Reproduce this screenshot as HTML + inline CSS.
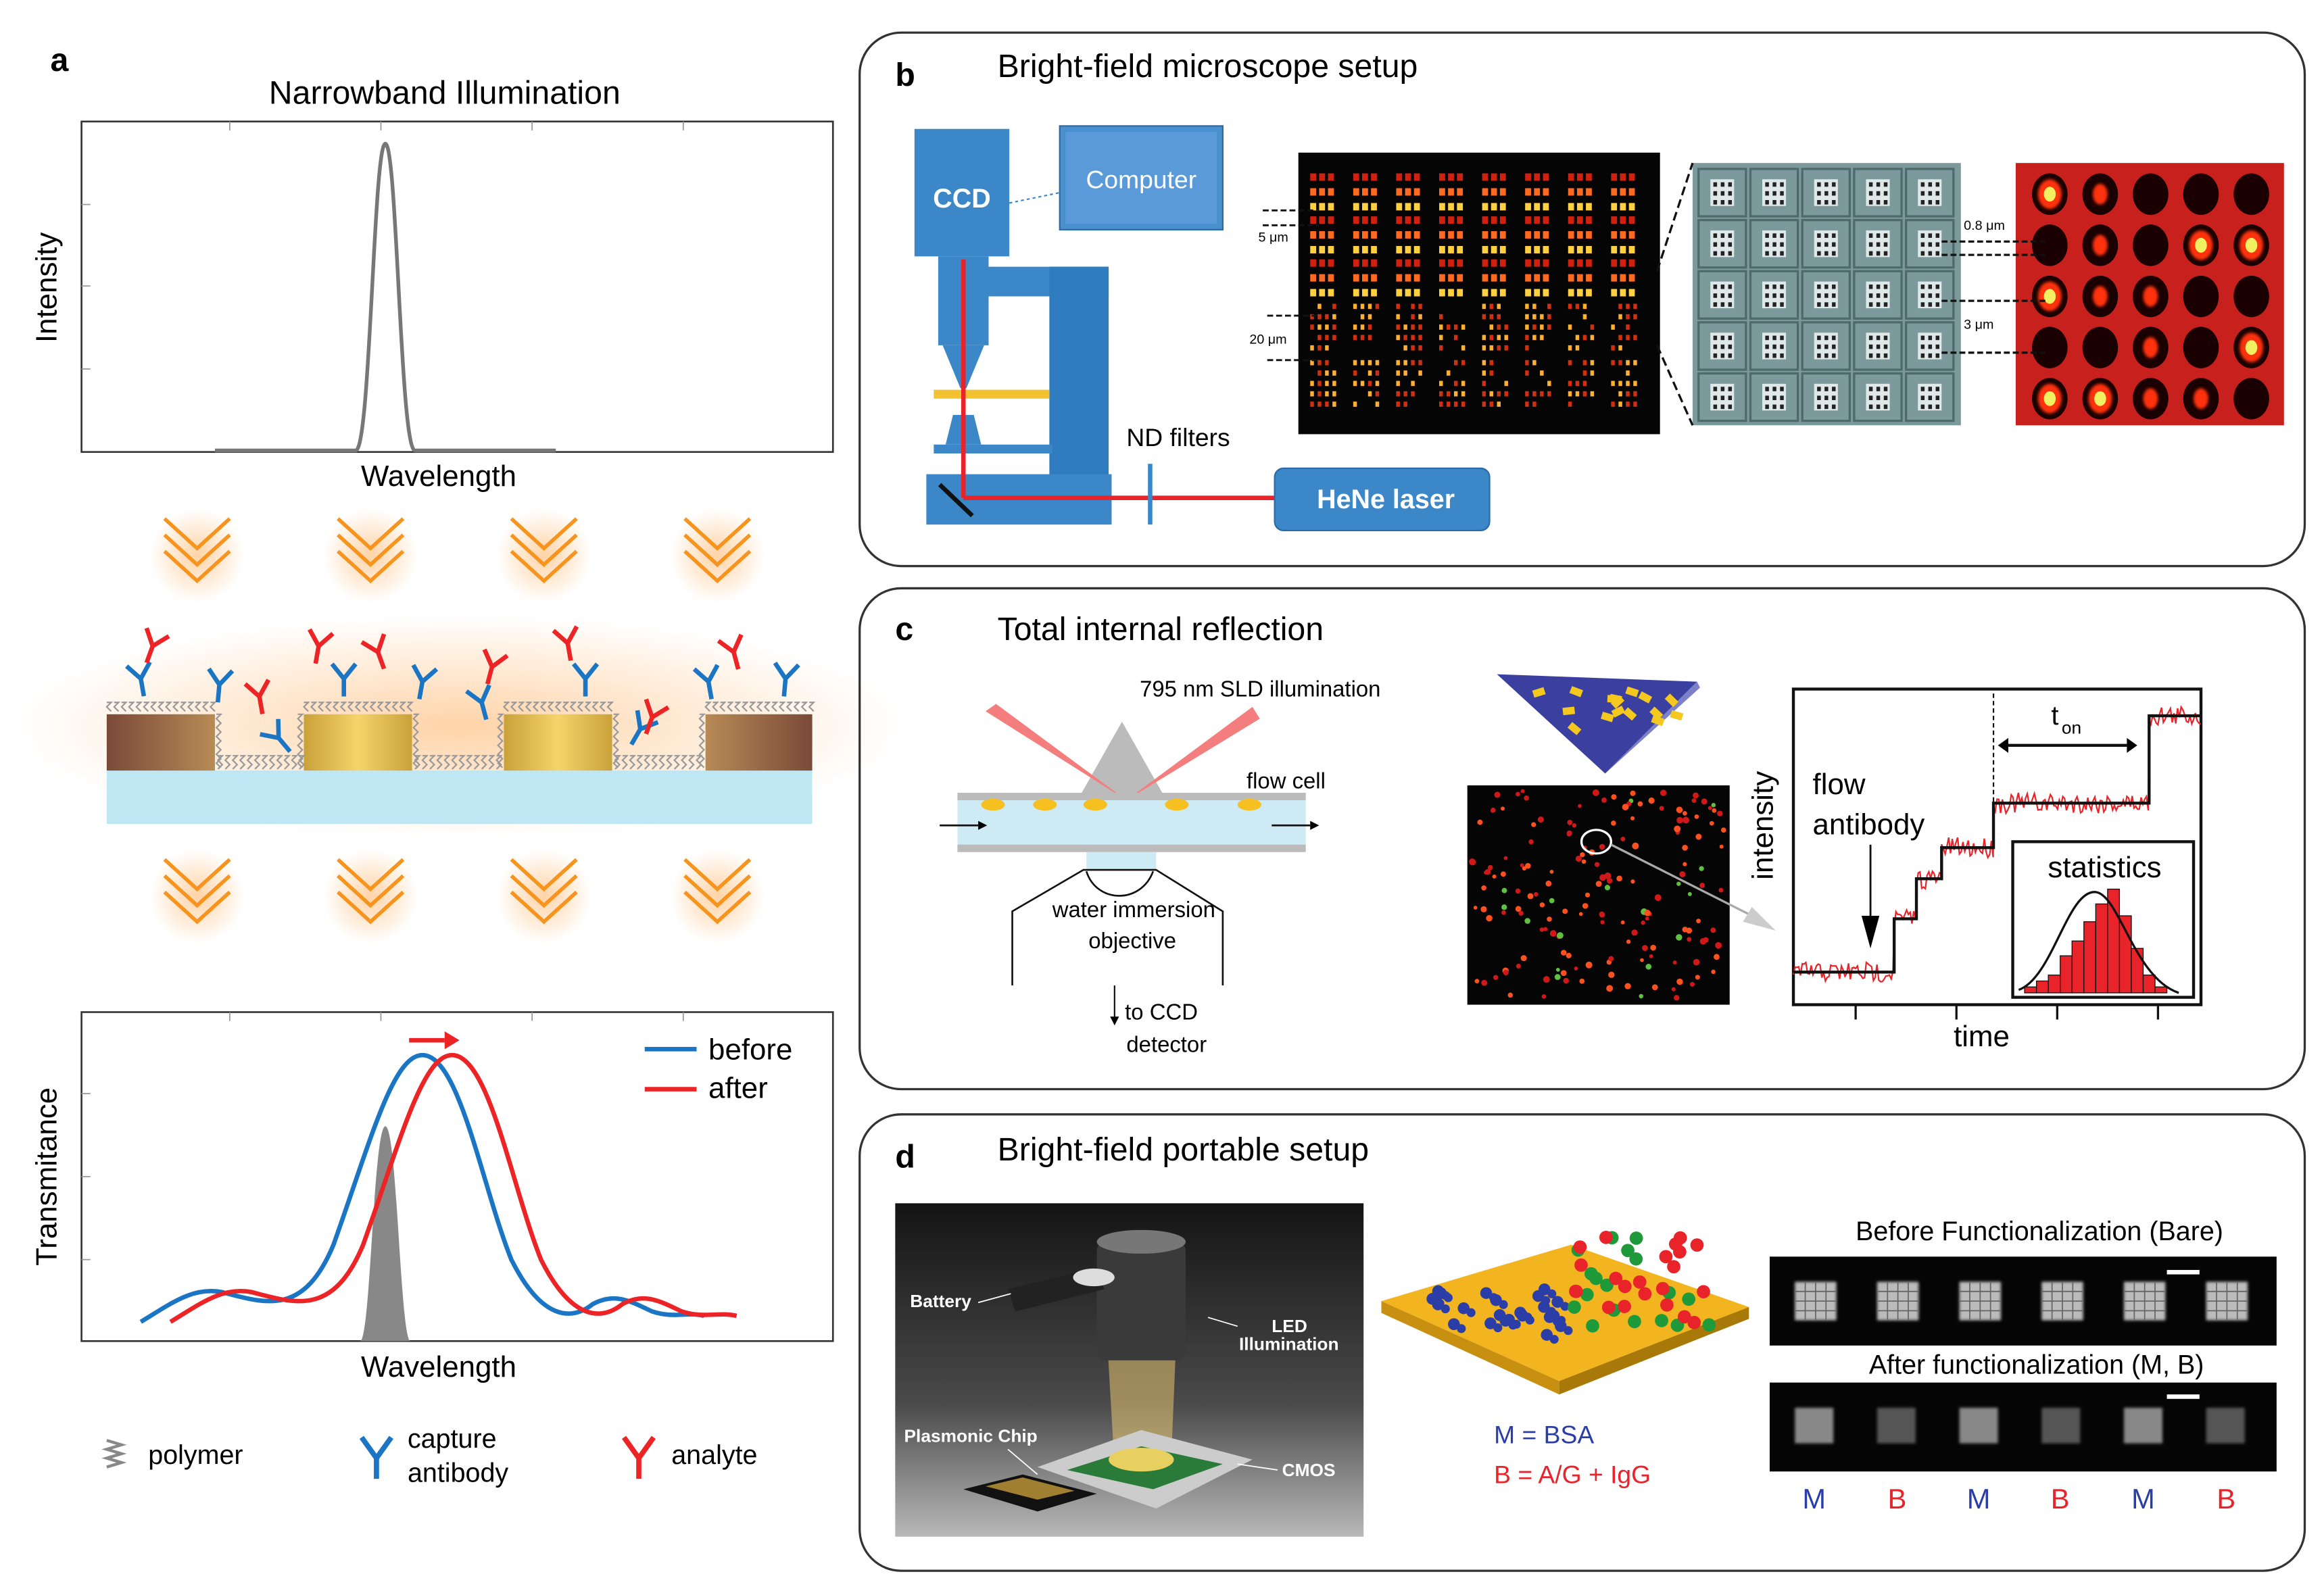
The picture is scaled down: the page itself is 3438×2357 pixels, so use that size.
<!DOCTYPE html>
<html><head><meta charset="utf-8"><style>
html,body{margin:0;padding:0;background:#fff}
svg{display:block}
text{font-family:"Liberation Sans",Arial,sans-serif}
</style></head><body>
<svg id="s" width="3438" height="2357" viewBox="0 0 1568 1075" preserveAspectRatio="none" xmlns="http://www.w3.org/2000/svg">
<defs>
<radialGradient id="glow" cx="50%" cy="50%" r="50%"><stop offset="0" stop-color="#ffb060" stop-opacity="0.55"/><stop offset="1" stop-color="#ffb060" stop-opacity="0"/></radialGradient>
<linearGradient id="gold" x1="0" x2="1"><stop offset="0" stop-color="#c9a13a"/><stop offset=".5" stop-color="#f5d46a"/><stop offset="1" stop-color="#c9a13a"/></linearGradient>
<linearGradient id="brown" x1="0" x2="1"><stop offset="0" stop-color="#7a4a38"/><stop offset="1" stop-color="#b88a55"/></linearGradient>
<linearGradient id="brown2" x1="1" x2="0"><stop offset="0" stop-color="#7a4a38"/><stop offset="1" stop-color="#b88a55"/></linearGradient>
<linearGradient id="photo" x1="0" y1="0" x2="0" y2="1"><stop offset="0" stop-color="#141414"/><stop offset=".6" stop-color="#4a4a4a"/><stop offset="1" stop-color="#b8b8b8"/></linearGradient>
<filter id="blur"><feGaussianBlur stdDeviation="3"/></filter>
<filter id="b1"><feGaussianBlur stdDeviation="1"/></filter>
</defs>

<!-- PANEL A -->
<text x="34" y="48" font-size="22" font-weight="bold">a</text>
<text x="300" y="70" font-size="22" text-anchor="middle">Narrowband Illumination</text>
<rect x="55" y="82" width="507" height="223" fill="none" stroke="#333" stroke-width="1.2"/>
<g stroke="#999" stroke-width="0.8"><line x1="155" y1="82" x2="155" y2="88"/><line x1="257" y1="82" x2="257" y2="88"/><line x1="359" y1="82" x2="359" y2="88"/><line x1="461" y1="82" x2="461" y2="88"/><line x1="55" y1="138" x2="61" y2="138"/><line x1="55" y1="193" x2="61" y2="193"/><line x1="55" y1="249" x2="61" y2="249"/></g>
<path d="M145 304 L240 304 C250 304 252 97 260 97 C268 97 270 304 280 304 L375 304" fill="none" stroke="#777" stroke-width="2.5"/>
<text x="38" y="194" font-size="20" text-anchor="middle" transform="rotate(-90 38 194)">Intensity</text>
<text x="296" y="328" font-size="20" text-anchor="middle">Wavelength</text>

<ellipse cx="310" cy="490" rx="300" ry="75" fill="url(#glow)"/>
<g id="chev1"></g>

<!-- chip -->
<rect x="72" y="520" width="476" height="36" fill="#bfe6f3"/>
<rect x="72" y="482" width="73" height="38" fill="url(#brown)"/>
<rect x="205" y="482" width="73" height="38" fill="url(#gold)"/>
<rect x="340" y="482" width="73" height="38" fill="url(#gold)"/>
<rect x="476" y="482" width="72" height="38" fill="url(#brown2)"/>
<g id="poly"></g>
<g id="ab"></g>

<!-- plot 2 -->
<rect x="55" y="683" width="507" height="222" fill="none" stroke="#333" stroke-width="1.2"/>
<g stroke="#999" stroke-width="0.8"><line x1="155" y1="683" x2="155" y2="689"/><line x1="257" y1="683" x2="257" y2="689"/><line x1="359" y1="683" x2="359" y2="689"/><line x1="461" y1="683" x2="461" y2="689"/><line x1="55" y1="738" x2="61" y2="738"/><line x1="55" y1="794" x2="61" y2="794"/><line x1="55" y1="850" x2="61" y2="850"/></g>
<path d="M243 905 C250 905 252 760 260 760 C268 760 270 905 277 905 Z" fill="#888"/>
<path d="M95 892 C115 880 130 868 150 872 C180 880 205 888 225 840 C250 770 265 712 285 712 C310 712 325 800 345 850 C365 890 385 892 400 880 C415 872 425 878 440 885 C455 890 465 885 475 888" fill="none" stroke="#1a75c4" stroke-width="3"/>
<path d="M115 892 C135 880 150 868 170 872 C200 880 225 888 245 840 C270 770 285 712 305 712 C330 712 345 800 365 850 C385 890 405 892 420 880 C435 872 445 878 460 885 C475 890 485 885 497 888" fill="none" stroke="#ec2426" stroke-width="3"/>
<line x1="276" y1="702" x2="300" y2="702" stroke="#ec2426" stroke-width="3"/><path d="M300 696 L310 702 L300 708 Z" fill="#ec2426"/>
<line x1="435" y1="708" x2="470" y2="708" stroke="#1a75c4" stroke-width="3"/><text x="478" y="715" font-size="20">before</text>
<line x1="435" y1="735" x2="470" y2="735" stroke="#ec2426" stroke-width="3"/><text x="478" y="741" font-size="20">after</text>
<text x="38" y="794" font-size="20" text-anchor="middle" transform="rotate(-90 38 794)">Transmitance</text>
<text x="296" y="929" font-size="20" text-anchor="middle">Wavelength</text>

<!-- legend -->
<path d="M72 972 l10 3 l-10 3 l10 3 l-10 3 l10 3 l-10 3" fill="none" stroke="#888" stroke-width="2"/>
<text x="100" y="988" font-size="18">polymer</text>
<path d="M244 970 L254 984 L264 970 M254 984 L254 998" fill="none" stroke="#1a75c4" stroke-width="3.5"/>
<text x="275" y="977" font-size="18">capture</text><text x="275" y="1000" font-size="18">antibody</text>
<path d="M421 970 L431 984 L441 970 M431 984 L431 998" fill="none" stroke="#ec2426" stroke-width="3.5"/>
<text x="453" y="988" font-size="18">analyte</text>

<!-- PANEL B -->
<rect x="580" y="22" width="975" height="360" rx="28" fill="none" stroke="#333" stroke-width="1.5"/>
<text x="604" y="58" font-size="22" font-weight="bold">b</text>
<text x="673" y="52" font-size="22">Bright-field microscope setup</text>
<!-- microscope -->
<rect x="617" y="87" width="64" height="86" fill="#3b87c8"/><text x="649" y="140" font-size="18" font-weight="bold" fill="#fff" text-anchor="middle">CCD</text>
<rect x="715" y="85" width="110" height="70" fill="#4a90cf" stroke="#2a6aa8"/><rect x="719" y="89" width="102" height="62" fill="#5a9ad8"/><text x="770" y="127" font-size="17" fill="#fff" text-anchor="middle">Computer</text>
<line x1="681" y1="137" x2="715" y2="130" stroke="#3b87c8" stroke-dasharray="2 2"/>
<rect x="633" y="173" width="34" height="60" fill="#3b87c8"/>
<path d="M636 233 L664 233 L652 262 L648 262 Z" fill="#3b87c8"/>
<rect x="660" y="180" width="88" height="20" fill="#3b87c8"/>
<rect x="708" y="180" width="40" height="150" fill="#2f7cc0"/>
<rect x="630" y="263" width="78" height="6" fill="#f2c230"/>
<path d="M643 280 L657 280 L662 300 L638 300 Z" fill="#3b87c8"/>
<rect x="630" y="300" width="80" height="6" fill="#3b87c8"/>
<rect x="625" y="320" width="125" height="34" fill="#3b87c8"/>
<line x1="650" y1="175" x2="650" y2="336" stroke="#e8232a" stroke-width="3"/>
<line x1="650" y1="336" x2="860" y2="336" stroke="#e8232a" stroke-width="3"/>
<line x1="634" y1="327" x2="656" y2="348" stroke="#111" stroke-width="3"/>
<line x1="776" y1="313" x2="776" y2="354" stroke="#3b87c8" stroke-width="3"/>
<text x="760" y="301" font-size="17">ND filters</text>
<rect x="860" y="316" width="145" height="42" rx="6" fill="#3b87c8" stroke="#2a6aa8"/><text x="935" y="343" font-size="18" font-weight="bold" fill="#fff" text-anchor="middle">HeNe laser</text>
<!-- image 1 -->
<rect x="876" y="103" width="244" height="190" fill="#050505"/>
<g id="img1"></g>
<g stroke="#111" stroke-width="1.3" stroke-dasharray="4 2"><line x1="852" y1="142" x2="890" y2="142"/><line x1="852" y1="152" x2="890" y2="152"/><line x1="855" y1="213" x2="890" y2="213"/><line x1="855" y1="243" x2="890" y2="243"/></g>
<text x="849" y="163" font-size="9">5 μm</text><text x="843" y="232" font-size="9">20 μm</text>
<!-- image 2 -->
<rect x="1142" y="110" width="181" height="177" fill="#7c9a9c"/>
<g id="img2"></g>
<path d="M1118 183 L1142 110 M1118 233 L1142 287" stroke="#111" stroke-width="1.5" stroke-dasharray="6 3"/>
<!-- image 3 -->
<rect x="1360" y="110" width="181" height="177" fill="#c8201c"/>
<g id="img3"></g>
<g stroke="#111" stroke-width="1.5" stroke-dasharray="4 2"><line x1="1310" y1="163" x2="1380" y2="163"/><line x1="1310" y1="172" x2="1380" y2="172"/><line x1="1310" y1="203" x2="1380" y2="203"/><line x1="1310" y1="238" x2="1380" y2="238"/></g>
<text x="1325" y="155" font-size="9">0.8 μm</text><text x="1325" y="222" font-size="9">3 μm</text>

<!-- PANEL C -->
<rect x="580" y="397" width="975" height="338" rx="28" fill="none" stroke="#333" stroke-width="1.5"/>
<text x="604" y="432" font-size="22" font-weight="bold">c</text>
<text x="673" y="432" font-size="22">Total internal reflection</text>
<text x="769" y="470" font-size="15">795 nm SLD illumination</text>
<path d="M727 540 L757 487 L787 540 Z" fill="#bbb"/>
<path d="M665 480 L672 475 L760 540 Z" fill="#f47d7d"/>
<path d="M845 477 L850 485 L760 540 Z" fill="#f47d7d"/>
<rect x="646" y="538" width="235" height="36" fill="#cdeaf5"/>
<rect x="646" y="535" width="235" height="5" fill="#bbb"/><rect x="646" y="570" width="235" height="5" fill="#bbb"/>
<g fill="#f5c020"><ellipse cx="670" cy="543" rx="8" ry="4"/><ellipse cx="705" cy="543" rx="8" ry="4"/><ellipse cx="739" cy="543" rx="8" ry="4"/><ellipse cx="794" cy="543" rx="8" ry="4"/><ellipse cx="843" cy="543" rx="8" ry="4"/></g>
<text x="841" y="532" font-size="15">flow cell</text>
<path d="M634 557 L660 557" stroke="#111" stroke-width="1.3"/><path d="M660 554 L666 557 L660 560Z"/>
<path d="M858 557 L884 557" stroke="#111" stroke-width="1.3"/><path d="M884 554 L890 557 L884 560Z"/>
<rect x="733" y="575" width="47" height="12" fill="#cdeaf5"/>
<path d="M683 665 L683 615 L731 587 L780 587 L825 615 L825 665" fill="none" stroke="#111" stroke-width="1.2"/>
<path d="M733 588 C740 610 770 610 778 588" fill="none" stroke="#111" stroke-width="1.2"/>
<text x="765" y="619" font-size="15" text-anchor="middle">water immersion</text>
<text x="764" y="640" font-size="15" text-anchor="middle">objective</text>
<line x1="752" y1="665" x2="752" y2="688" stroke="#111"/><path d="M749 686 L752 692 L755 686Z"/>
<text x="759" y="688" font-size="15">to CCD</text><text x="760" y="710" font-size="15">detector</text>
<path d="M1010 455 L1145 460 L1083 522 Z" fill="#3a3fa0"/><path d="M1083 522 L1145 460 L1147 464 Z" fill="#7b80c8"/>
<g id="chipc"></g>
<rect x="990" y="530" width="177" height="148" fill="#050505"/>
<g id="img4"></g>
<ellipse cx="1077" cy="568" rx="10" ry="8" fill="none" stroke="#fff" stroke-width="1.5"/>
<line x1="1087" y1="570" x2="1190" y2="622" stroke="#aaa" stroke-width="1.5"/><path d="M1182 612 L1198 628 L1176 622Z" fill="#ccc"/>
<!-- plot -->
<rect x="1210" y="465" width="275" height="213" fill="#fff" stroke="#111" stroke-width="2"/>
<path id="noise" d="" fill="none" stroke="#e8232a" stroke-width="1"/>
<path d="M1210 656 L1278 656 L1278 620 L1293 620 L1293 593 L1310 593 L1310 572 L1345 572 L1345 542 L1450 542 L1450 483 L1485 483" fill="none" stroke="#111" stroke-width="2"/>
<line x1="1345" y1="468" x2="1345" y2="542" stroke="#111" stroke-dasharray="3 2"/>
<line x1="1355" y1="503" x2="1435" y2="503" stroke="#111" stroke-width="2"/><path d="M1355 498 L1348 503 L1355 508Z M1435 498 L1442 503 L1435 508Z"/>
<text x="1384" y="489" font-size="18">t</text><text x="1391" y="495" font-size="12">on</text>
<text x="1223" y="536" font-size="20">flow</text><text x="1223" y="563" font-size="20">antibody</text>
<line x1="1262" y1="570" x2="1262" y2="622" stroke="#111" stroke-width="1.3"/><path d="M1256 618 L1262 640 L1268 618Z"/>
<text x="1196" y="557" font-size="20" text-anchor="middle" transform="rotate(-90 1196 557)">intensity</text>
<rect x="1358" y="568" width="122" height="105" fill="#fff" stroke="#111" stroke-width="2"/>
<text x="1420" y="592" font-size="20" text-anchor="middle">statistics</text>
<g id="hist" fill="#e8232a" stroke="#111" stroke-width="0.6"></g>
<path d="M1362 668 C1385 660 1395 600 1414 602 C1430 604 1440 660 1470 670" fill="none" stroke="#111" stroke-width="1.5"/>
<g stroke="#111" stroke-width="1.5"><line x1="1252" y1="678" x2="1252" y2="688"/><line x1="1320" y1="678" x2="1320" y2="688"/><line x1="1388" y1="678" x2="1388" y2="688"/><line x1="1456" y1="678" x2="1456" y2="688"/></g>
<text x="1337" y="706" font-size="20" text-anchor="middle">time</text>

<!-- PANEL D -->
<rect x="580" y="752" width="975" height="308" rx="28" fill="none" stroke="#333" stroke-width="1.5"/>
<text x="604" y="788" font-size="22" font-weight="bold">d</text>
<text x="673" y="783" font-size="22">Bright-field portable setup</text>
<rect x="604" y="812" width="316" height="225" fill="url(#photo)"/>
<path d="M745 870 L795 870 L790 990 L752 990Z" fill="#f5d070" opacity=".5"/>
<rect x="740" y="838" width="60" height="80" rx="6" fill="#3a3a3a"/>
<ellipse cx="770" cy="838" rx="30" ry="8" fill="#777"/>
<path d="M680 870 L740 855 L745 870 L685 885Z" fill="#222"/><ellipse cx="738" cy="862" rx="14" ry="6" fill="#ddd"/>
<path d="M700 990 L770 965 L845 985 L780 1018Z" fill="#ccc"/>
<path d="M720 992 L770 976 L825 988 L778 1005Z" fill="#2a7a3a"/>
<ellipse cx="770" cy="985" rx="22" ry="8" fill="#e8d060"/>
<path d="M650 1005 L690 995 L740 1008 L700 1020Z" fill="#111"/><path d="M665 1003 L690 997 L725 1006 L700 1012Z" fill="#a08030"/>
<g font-family="Liberation Serif" font-size="12" font-weight="bold" fill="#fff">
<text x="614" y="882" font-family="Liberation Serif">Battery</text>
<text x="858" y="899" font-family="Liberation Serif">LED</text><text x="836" y="911" font-family="Liberation Serif">Illumination</text>
<text x="610" y="973" font-family="Liberation Serif">Plasmonic Chip</text>
<text x="865" y="996" font-family="Liberation Serif">CMOS</text></g>
<g stroke="#fff" stroke-width="0.8"><line x1="660" y1="879" x2="682" y2="873"/><line x1="835" y1="895" x2="815" y2="889"/><line x1="680" y1="978" x2="700" y2="995"/><line x1="862" y1="992" x2="835" y2="988"/></g>
<path d="M932 878 L1060 840 L1180 882 L1052 932 Z" fill="#f2b51f"/>
<path d="M932 878 L1052 932 L1052 941 L932 886Z" fill="#c89010"/><path d="M1052 932 L1180 882 L1180 890 L1052 941Z" fill="#a87808"/>
<g id="mol"></g>
<text x="1008" y="974" font-size="17" fill="#2b3ea8">M = BSA</text>
<text x="1008" y="1001" font-size="17" fill="#e8232a">B = A/G + IgG</text>
<text x="1376" y="837" font-size="18" text-anchor="middle">Before Functionalization (Bare)</text>
<rect x="1194" y="848" width="342" height="60" fill="#050505"/>
<text x="1374" y="927" font-size="18" text-anchor="middle">After functionalization (M, B)</text>
<rect x="1194" y="933" width="342" height="60" fill="#050505"/>
<g id="sq"></g>
<rect x="1462" y="857" width="22" height="3" fill="#fff"/><rect x="1462" y="941" width="22" height="3" fill="#fff"/>
<g font-size="19"><text x="1224" y="1018" text-anchor="middle" fill="#2b3ea8">M</text><text x="1280" y="1018" text-anchor="middle" fill="#e8232a">B</text><text x="1335" y="1018" text-anchor="middle" fill="#2b3ea8">M</text><text x="1390" y="1018" text-anchor="middle" fill="#e8232a">B</text><text x="1446" y="1018" text-anchor="middle" fill="#2b3ea8">M</text><text x="1502" y="1018" text-anchor="middle" fill="#e8232a">B</text></g>
</svg>
<script>
var NS="http://www.w3.org/2000/svg";
function el(p,t,a){var e=document.createElementNS(NS,t);for(var k in a)e.setAttribute(k,a[k]);document.getElementById(p).appendChild(e);return e;}
var seed=7;function r(){seed=(seed*16807)%2147483647;return seed/2147483647;}
// chevrons
[133,250,367,484].forEach(function(x){[350,580].forEach(function(y){
 el("chev1","ellipse",{cx:x,cy:y+25,rx:32,ry:32,fill:"url(#glow)"});
 for(var i=0;i<3;i++)el("chev1","path",{d:"M"+(x-22)+" "+(y+i*11)+" L"+x+" "+(y+i*11+20)+" L"+(x+22)+" "+(y+i*11),fill:"none",stroke:"#f7941d","stroke-width":2.5});
});});
// polymers
function zig(x,y1,y2){var d="M"+x+" "+y1,t=0;for(var y=y1;y<y2;y+=3){t^=1;d+=" L"+(x+(t?3:0))+" "+y;}el("poly","path",{d:d,fill:"none",stroke:"#999","stroke-width":1});}
[[72,145],[205,278],[340,413],[476,548]].forEach(function(b){for(var x=b[0];x<b[1];x+=5)zig(x,474,482);});
[[145,205],[278,340],[413,476]].forEach(function(b){for(var x=b[0]+2;x<b[1]-2;x+=5)zig(x,510,520);zig(b[0]+1,482,520);zig(b[1]-4,482,520);});
// antibodies
function Y(x,y,a,c){var g=el("ab","g",{transform:"translate("+x+" "+y+") rotate("+a+")"});var p=document.createElementNS(NS,"path");p.setAttribute("d","M-8 -10 L0 0 L8 -10 M0 0 L0 12");p.setAttribute("fill","none");p.setAttribute("stroke",c);p.setAttribute("stroke-width","3");g.appendChild(p);}
[[95,458,-10],[148,462,5],[188,498,-40],[232,458,0],[285,460,10],[325,474,-15],[395,458,0],[432,492,30],[478,460,-10],[530,458,5]].forEach(function(a){Y(a[0],a[1],a[2],"#1a75c4");});
[[103,436,20],[175,470,-10],[215,436,10],[255,440,-20],[332,450,15],[383,434,-10],[440,484,20],[495,440,-15]].forEach(function(a){Y(a[0],a[1],a[2],"#ec2426");});
// image1 dots
for(var gx=0;gx<8;gx++)for(var gy=0;gy<3;gy++)for(var k=0;k<3;k++)for(var d=0;d<3;d++){var col=k==2?"#ffd040":(k==1?"#ff6a20":"#d02010");el("img1","rect",{x:884+gx*29+d*6,y:117+gy*29+k*10,width:4,height:5,fill:col});}
for(var gx=0;gx<8;gx++)for(var gy=0;gy<2;gy++)for(var k=0;k<5;k++)for(var d=0;d<4;d++){if(r()<0.3)continue;el("img1","rect",{x:884+gx*29+d*5,y:205+gy*38+k*7,width:2.5,height:3.5,fill:r()<.5?"#ffb030":"#d03010"});}
// image2
for(var i=0;i<5;i++)for(var j=0;j<5;j++){el("img2","rect",{x:1146+i*35,y:114+j*34.5,width:32,height:32,fill:"none",stroke:"#4e6a6c","stroke-width":1.5});el("img2","rect",{x:1154+i*35,y:121+j*34.5,width:16,height:18,fill:"#dfe8e8"});for(var a=0;a<3;a++)for(var b=0;b<3;b++)el("img2","rect",{x:1156+i*35+a*5,y:123+j*34.5+b*6,width:2.5,height:3,fill:"#222"});}
// image3
var br=[[2,1,0,0,0],[0,1,0,2,2],[2,1,1,0,0],[0,0,1,0,2],[2,2,1,1,0]];
for(var j=0;j<5;j++)for(var i=0;i<5;i++){var cx=1383+i*34,cy=131+j*34.5;el("img3","ellipse",{cx:cx,cy:cy,rx:12,ry:14,fill:"#1a0000"});var v=br[j][i];if(v){el("img3","ellipse",{cx:cx,cy:cy,rx:v==2?8:5,ry:v==2?10:7,fill:"#ff3010",filter:"url(#b1)"});if(v==2)el("img3","ellipse",{cx:cx,cy:cy,rx:4,ry:5,fill:"#f0f060"});}}
// chip c
for(var i=0;i<16;i++){var x=1030+r()*100,y=462+r()*(40-(x-1030)*0.2);el("chipc","rect",{x:x,y:y,width:8,height:5,fill:"#f5c820",transform:"rotate("+(r()*90-45)+" "+x+" "+y+")"});}
// img4 dots
for(var i=0;i<170;i++)el("img4","circle",{cx:993+r()*171,cy:533+r()*142,r:1.3+r(),fill:r()<.1?"#60c040":(r()<.5?"#ff5020":"#d01818")});
// noise trace
(function(){var st=[[1210,656],[1278,620],[1293,593],[1310,572],[1345,542],[1450,483],[1486,483]];var d="";for(var s=0;s<st.length-1;s++){for(var x=st[s][0];x<st[s+1][0];x+=1.2){d+=(d?" L":"M")+x.toFixed(1)+" "+(st[s][1]+(r()-.5)*14).toFixed(1);}}document.getElementById("noise").setAttribute("d",d);})();
// histogram
[4,8,12,25,35,48,60,70,52,30,12,4].forEach(function(h,i){el("hist","rect",{x:1366+i*8,y:670-h,width:8,height:h});});
// molecules
for(var i=0;i<22;i++){var x=960+r()*95,y=870+r()*35;if(y>880+(x-960)*0.3)y-=10;el("mol","circle",{cx:x,cy:y,r:4,fill:"#2b3ea8"});el("mol","circle",{cx:x+5,cy:y+3,r:3,fill:"#2b3ea8"});}
for(var i=0;i<40;i++){var x=1060+r()*95,y=835+r()*60;el("mol","circle",{cx:x,cy:y,r:4.5,fill:r()<.7?"#e8232a":"#1e9a3a"});}
// squares
for(var i=0;i<6;i++){var x=1211+i*55.5;el("sq","rect",{x:x,y:865,width:28,height:26,fill:"#bbb",filter:"url(#b1)"});el("sq","rect",{x:x,y:950,width:26,height:24,fill:i%2?"#555":"#888",filter:"url(#b1)"});for(var k=1;k<4;k++){el("sq","line",{x1:x+k*7,y1:865,x2:x+k*7,y2:891,stroke:"#666","stroke-width":.8});el("sq","line",{x1:x,y1:865+k*6.5,x2:x+28,y2:865+k*6.5,stroke:"#666","stroke-width":.8});}}
</script>
</body></html>
